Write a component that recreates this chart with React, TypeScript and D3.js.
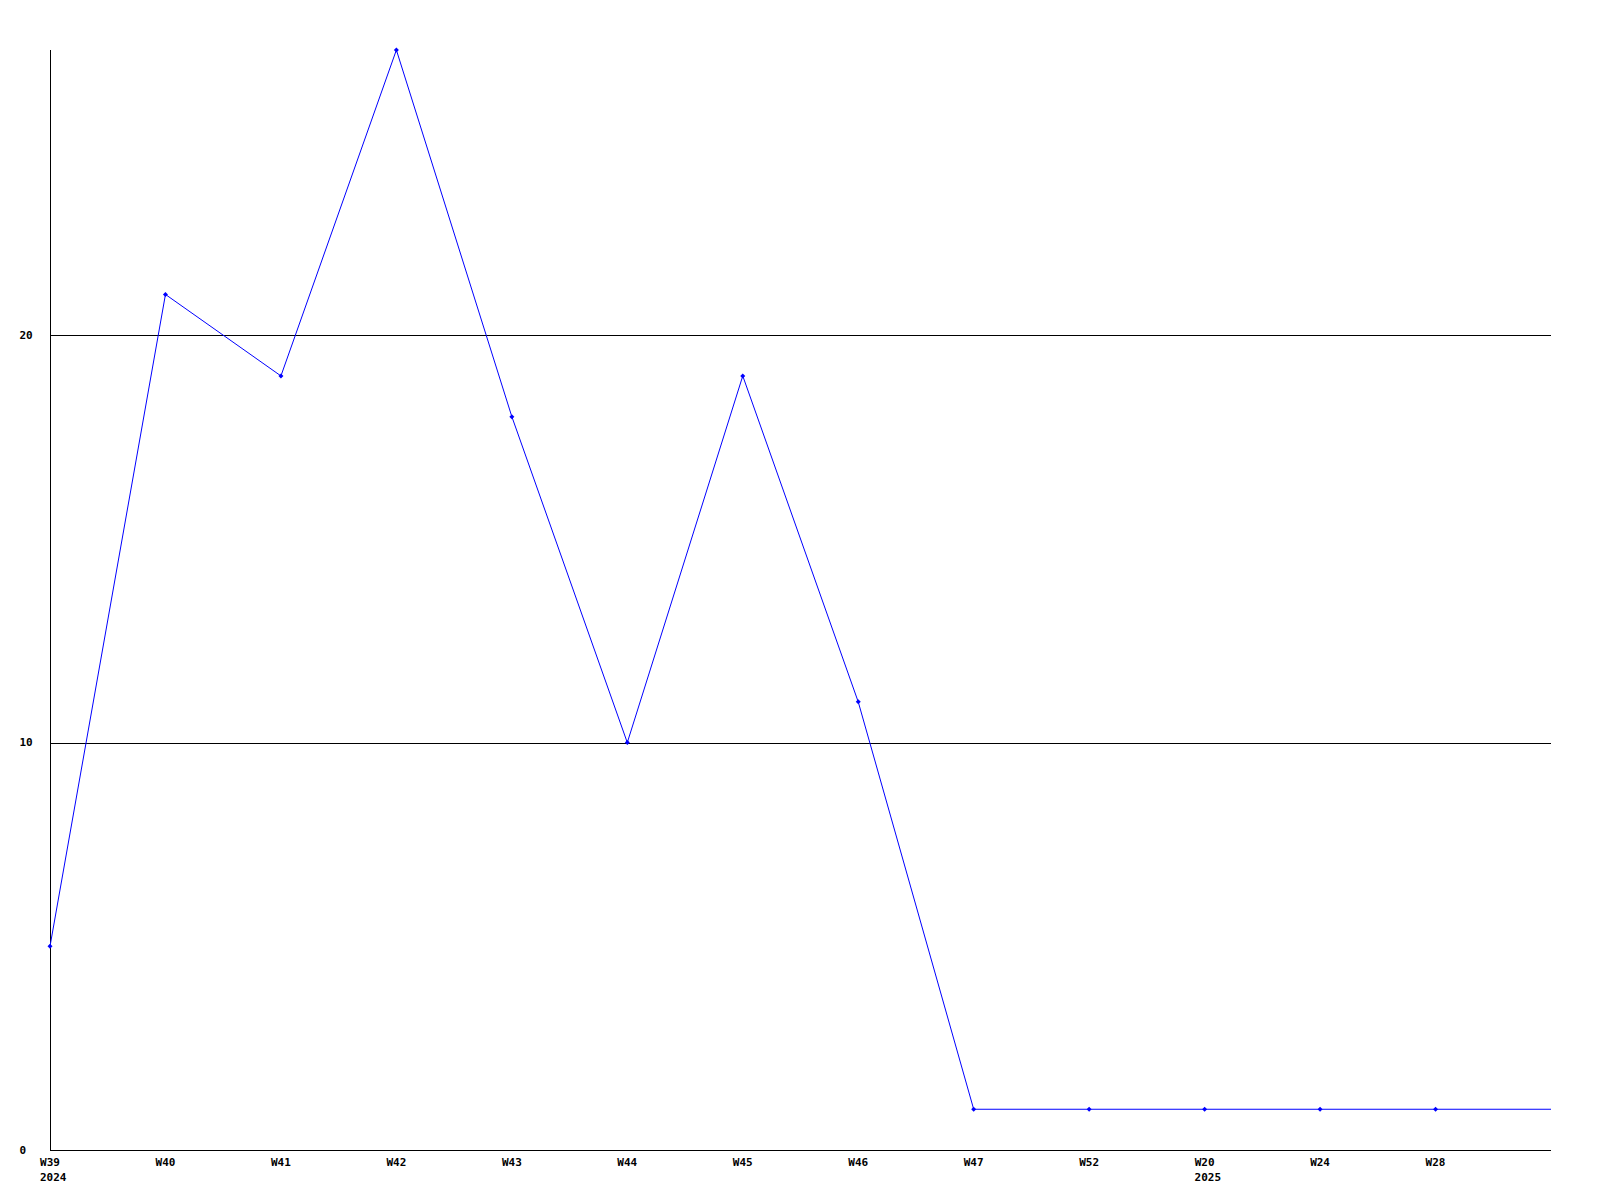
import React from "react";
import * as d3 from "d3";

const categories = ["W39", "W40", "W41", "W42", "W43", "W44", "W45", "W46", "W47", "W52", "W20", "W24", "W28", ""];
const values = [5, 21, 19, 27, 18, 10, 19, 11, 1, 1, 1, 1, 1, 1];
const yearLabels = ["2024", "", "", "", "", "", "", "", "", "", "2025", "", "", ""];
const yTicks = [0, 10, 20];
const gridTicks = [10, 20];

const W = 1600;
const H = 1200;
const left = 50;
const right = 1551;
const top = 50;
const bottom = 1150;
const font = "'DejaVu Sans Mono', monospace";

export default function App() {
  const x = d3.scalePoint<number>().domain(categories.map((_, i) => i)).range([left, right]);
  const y = d3.scaleLinear().domain([0, 27]).range([bottom, top]);
  const line = d3
    .line<number>()
    .x((_, i) => x(i)!)
    .y((d) => y(d));

  return (
    <svg
      width={W}
      height={H}
      style={{ position: "absolute", left: 0, top: 0, background: "#fff" }}
    >
      {gridTicks.map((t) => (
        <line key={t} x1={left} x2={right} y1={Math.round(y(t)) + 0.5} y2={Math.round(y(t)) + 0.5} stroke="#000" strokeWidth={1} />
      ))}
      <line x1={left + 0.5} x2={left + 0.5} y1={top} y2={bottom + 0.5} stroke="#000" strokeWidth={1} />
      <line x1={left} x2={right} y1={bottom + 0.5} y2={bottom + 0.5} stroke="#000" strokeWidth={1} />
      {yTicks.map((t) => (
        <text key={t} x={19.5} y={y(t)} textAnchor="start" dominantBaseline="central" fontFamily={font} fontWeight="bold" fontSize={11} fill="#000">
          {t}
        </text>
      ))}
      {categories.map((c, i) =>
        c ? (
          <g key={i}>
            <text x={x(i)!} y={1162} textAnchor="middle" dominantBaseline="central" fontFamily={font} fontWeight="bold" fontSize={11} fill="#000">
              {c}
            </text>
            {yearLabels[i] ? (
              <text x={x(i)! - 10} y={1177} textAnchor="start" dominantBaseline="central" fontFamily={font} fontWeight="bold" fontSize={11} fill="#000">
                {yearLabels[i]}
              </text>
            ) : null}
          </g>
        ) : null
      )}
      <path d={line(values) || ""} fill="none" stroke="#0000ff" strokeWidth={1} />
      {values.map((v, i) =>
        categories[i] ? (
          <path
            key={i}
            d={`M${x(i)! - 2.5},${y(v)}L${x(i)!},${y(v) - 2.5}L${x(i)! + 2.5},${y(v)}L${x(i)!},${y(v) + 2.5}Z`}
            fill="#0000ff"
            stroke="none"
          />
        ) : null
      )}
    </svg>
  );
}
